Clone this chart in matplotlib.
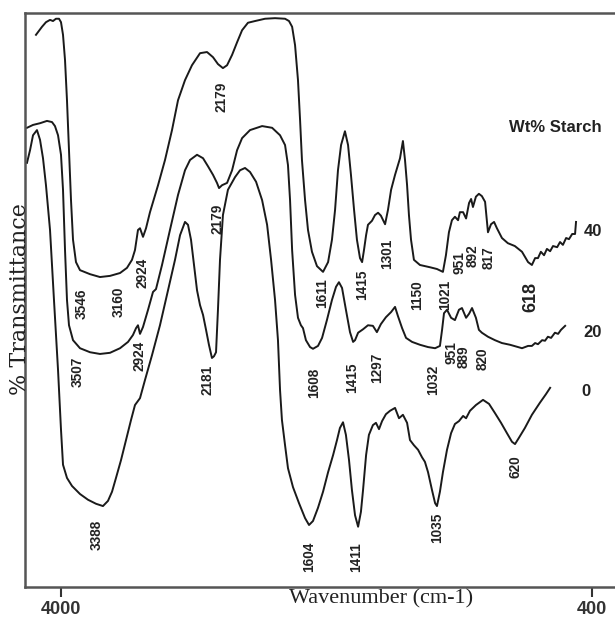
import numpy as np
import matplotlib
matplotlib.use('Agg')
import matplotlib.pyplot as plt

# FTIR spectra, wavenumber (cm-1) vs % transmittance (arbitrary offset units)
wn_40 = [4278, 4211, 4167, 4122, 4089, 4056, 4022, 4000, 3952, 3904,
         3857, 3809, 3761, 3713, 3642, 3546, 3442, 3339, 3235, 3131,
         3059, 3007, 2976, 2945, 2924, 2896, 2868, 2831, 2756, 2691,
         2626, 2570, 2505, 2440, 2365, 2300, 2244, 2198, 2162, 2138,
         2109, 2080, 2051, 2017, 1976, 1918, 1860, 1802, 1779, 1761,
         1744, 1727, 1715, 1704, 1686, 1669, 1646, 1617, 1585, 1559,
         1539, 1523, 1508, 1492, 1472, 1456, 1441, 1425, 1411, 1398,
         1389, 1381, 1372, 1364, 1347, 1334, 1321, 1309, 1290, 1276,
         1261, 1242, 1218, 1204, 1194, 1184, 1175, 1165, 1151, 1122,
         1073, 1040, 1012, 998, 984, 970, 956, 942, 934, 920,
         907, 894, 885, 877, 864, 851, 838, 824, 809, 792,
         775, 759, 731, 698, 659, 619, 600, 588, 578, 569,
         560, 550, 541, 531, 522, 509, 500, 491, 481, 472,
         462, 453, 450]
t_40 = [96.2, 97.6, 98.4, 98.8, 98.6, 99.0, 99.0, 98.4, 96.2, 91.8,
        84.8, 76.1, 67.4, 60.5, 56.6, 55.2, 54.5, 54.0, 54.2, 54.7,
        55.6, 57.0, 58.7, 62.2, 62.5, 61.0, 62.5, 65.3, 70.0, 74.4,
        79.6, 84.8, 88.3, 90.9, 93.0, 93.2, 92.3, 91.1, 90.4, 90.9,
        92.7, 94.9, 97.0, 98.3, 98.6, 99.0, 99.1, 99.0, 98.6, 97.6,
        94.4, 88.3, 81.4, 74.4, 67.4, 62.2, 58.4, 55.9, 54.9, 56.6,
        60.5, 65.7, 72.6, 77.0, 79.4, 77.0, 71.8, 65.7, 60.5, 57.3,
        56.6, 58.7, 61.3, 63.1, 63.8, 64.8, 65.2, 64.7, 63.2, 65.7,
        69.2, 71.8, 74.7, 77.7, 74.4, 70.0, 64.8, 60.5, 57.0, 56.1,
        55.7, 55.4, 54.9, 57.8, 61.8, 63.9, 64.5, 63.9, 65.3, 65.3,
        64.2, 66.9, 67.6, 66.2, 68.0, 68.5, 68.1, 67.1, 61.8, 63.2,
        63.6, 62.5, 60.8, 59.9, 59.4, 58.4, 56.6, 56.1, 57.3, 57.3,
        58.4, 57.8, 58.9, 58.5, 59.4, 59.2, 60.1, 59.6, 60.8, 60.6,
        61.5, 61.5, 63.6]

wn_20 = [4378, 4311, 4233, 4156, 4100, 4067, 4033, 4000, 3952, 3904,
         3857, 3809, 3713, 3546, 3442, 3339, 3235, 3131, 3048, 2997,
         2965, 2945, 2924, 2896, 2849, 2803, 2775, 2719, 2645, 2570,
         2505, 2458, 2393, 2337, 2291, 2244, 2207, 2188, 2167, 2138,
         2109, 2080, 2051, 2005, 1935, 1877, 1831, 1802, 1785, 1773,
         1761, 1744, 1727, 1710, 1698, 1681, 1657, 1640, 1611, 1590,
         1565, 1539, 1518, 1503, 1487, 1467, 1446, 1430, 1420, 1406,
         1385, 1364, 1343, 1326, 1309, 1286, 1261, 1242, 1228, 1208,
         1189, 1160, 1122, 1083, 1049, 1026, 1016, 1007, 993, 974,
         956, 938, 925, 907, 894, 881, 864, 851, 838, 809,
         770, 731, 686, 641, 619, 600, 588, 578, 569, 556,
         547, 538, 528, 516, 506, 497, 484]
t_20 = [80.0, 80.5, 80.8, 81.2, 81.0, 80.3, 78.7, 75.3, 69.2, 58.7,
        50.0, 45.6, 43.0, 41.6, 40.9, 40.6, 40.8, 41.6, 42.7, 43.9,
        45.1, 45.6, 44.1, 45.3, 48.3, 51.4, 51.9, 56.1, 62.2, 68.3,
        72.6, 74.4, 75.3, 74.7, 73.3, 71.8, 70.4, 69.5, 70.0, 70.4,
        72.6, 76.1, 78.2, 79.6, 80.3, 80.0, 78.7, 77.0, 73.5, 67.4,
        58.7, 50.9, 46.9, 45.6, 45.1, 43.0, 41.8, 41.5, 42.0, 43.4,
        46.5, 50.0, 52.3, 53.1, 52.1, 48.3, 44.4, 42.7, 43.0, 44.3,
        44.9, 45.6, 45.5, 44.4, 45.8, 47.0, 47.9, 48.8, 47.2, 45.1,
        43.4, 42.7, 42.2, 41.8, 41.6, 42.0, 44.8, 47.7, 48.3, 46.9,
        46.5, 48.3, 48.6, 46.9, 47.6, 48.6, 46.9, 44.8, 44.3, 43.6,
        43.0, 42.5, 42.2, 41.8, 41.6, 42.0, 42.0, 42.5, 42.3, 43.0,
        42.9, 43.6, 43.4, 44.3, 44.1, 44.8, 45.5]

wn_0 = [4378, 4344, 4311, 4267, 4233, 4200, 4167, 4122, 4078, 4033,
        4000, 3952, 3857, 3737, 3546, 3463, 3380, 3308, 3256, 3214,
        3173, 3121, 3069, 3017, 2976, 2924, 2877, 2812, 2738, 2663,
        2598, 2551, 2505, 2477, 2449, 2421, 2393, 2365, 2337, 2309,
        2282, 2254, 2235, 2216, 2198, 2179, 2162, 2133, 2092, 2063,
        2034, 2005, 1970, 1935, 1906, 1883, 1860, 1843, 1831, 1820,
        1802, 1785, 1756, 1721, 1686, 1663, 1640, 1611, 1585, 1559,
        1533, 1513, 1498, 1482, 1467, 1451, 1436, 1420, 1406, 1394,
        1385, 1372, 1360, 1343, 1330, 1317, 1304, 1286, 1266, 1242,
        1223, 1204, 1184, 1170, 1151, 1131, 1112, 1098, 1083, 1064,
        1049, 1040, 1026, 1012, 993, 974, 956, 938, 920, 907,
        890, 864, 833, 803, 770, 736, 703, 675, 658, 636,
        610, 588, 563, 544, 531]
t_0 = [73.9, 76.1, 78.7, 79.6, 77.9, 74.7, 70.0, 62.2, 50.0, 37.8,
       27.4, 21.3, 19.0, 17.6, 16.2, 15.2, 14.5, 14.1, 15.0, 16.6,
       19.0, 22.1, 25.6, 29.1, 31.7, 32.9, 36.1, 40.4, 45.6, 51.7,
       57.0, 61.3, 63.6, 63.1, 60.5, 56.1, 51.7, 49.1, 47.4, 44.8,
       42.2, 39.9, 40.2, 40.9, 48.3, 57.0, 64.8, 69.2, 71.4, 72.6,
       73.0, 72.3, 70.6, 67.4, 63.1, 57.0, 50.0, 43.0, 34.3, 29.1,
       24.7, 20.7, 17.4, 14.6, 12.0, 10.8, 11.5, 13.8, 16.6, 20.0,
       23.0, 25.6, 27.7, 28.7, 26.5, 22.1, 16.9, 12.5, 10.5, 13.1,
       16.9, 23.0, 26.5, 28.2, 28.6, 27.5, 28.9, 30.1, 30.7, 31.2,
       29.4, 30.0, 28.6, 25.6, 24.7, 23.9, 22.6, 21.8, 20.0, 16.9,
       14.6, 14.1, 16.6, 20.0, 23.9, 26.8, 28.4, 28.9, 29.8, 29.4,
       30.7, 31.7, 32.6, 31.9, 30.3, 28.6, 26.8, 25.3, 24.9, 26.0,
       27.7, 30.0, 32.1, 33.6, 34.7]

# peak labels and where they sit
peaks_40 = ['3546', '3160', '2924', '2179', '1611', '1415', '1301', '1150',
            '1021', '951', '892', '817']
peaks_40_x = [3525, 3142, 2905, 2173, 1590, 1389, 1281, 1136, 1002, 936, 877, 807]
peaks_40_y = [49.3, 49.7, 54.7, 85.4, 51.2, 52.6, 58.0, 50.9, 50.9, 56.6, 57.7, 57.3]

peaks_20 = ['3507', '2924', '2179', '1608', '1415', '1297', '1032', '951', '889', '820']
peaks_20_x = [3594, 2934, 2198, 1634, 1436, 1326, 1059, 974, 916, 833]
peaks_20_y = [37.5, 40.2, 64.1, 35.5, 36.4, 38.2, 36.1, 40.9, 40.2, 39.7]

peaks_0 = ['3388', '2181', '1604', '1411', '1035', '620']
peaks_0_x = [3370, 2291, 1663, 1415, 1040, 658]
peaks_0_y = [9.1, 36.1, 5.2, 5.2, 10.3, 20.9]

starch = ['40', '20', '0']
starch_x = [397, 397, 419]
starch_y = [62.0, 44.4, 34.0]

# the original axis is not linear: piecewise mapping wavenumber -> position
scale_wn = np.array([330, 400, 619, 820, 951, 1035, 1300, 1415, 1611, 2179,
                     2924, 3546, 4000, 4400], dtype=float)
scale_pos = -np.array([615, 592, 522, 486, 456, 438, 383, 356, 318, 220,
                       140, 80, 61, 25], dtype=float)


def fwd(w):
    return np.interp(w, scale_wn, scale_pos)


def inv(p):
    return np.interp(p, scale_pos, scale_wn)


fig = plt.figure(figsize=(6.15, 6.18), dpi=100)
ax = fig.add_axes([25 / 615, 1 - 587 / 618, 590 / 615, 574 / 618])
ax.set_xscale('function', functions=(fwd, inv))
ax.set_xlim(4400, 330)
ax.set_ylim(0, 100)

for wn, t in [(wn_40, t_40), (wn_20, t_20), (wn_0, t_0)]:
    ax.plot(wn, t, color='#1a1a1a', lw=1.4, solid_joinstyle='round')

sans = ['Liberation Sans', 'DejaVu Sans']
lab = dict(family=sans, fontsize=9.8, fontweight='bold', rotation=90,
           ha='center', va='center', color='#222')
for names, xs, ys in [(peaks_40, peaks_40_x, peaks_40_y),
                      (peaks_20, peaks_20_x, peaks_20_y),
                      (peaks_0, peaks_0_x, peaks_0_y)]:
    for s, x, y in zip(names, xs, ys):
        ax.text(x, y, s, **lab)
ax.text(591, 50.5, '618', family=sans, fontsize=13, fontweight='bold',
        rotation=90, ha='center', va='center', color='#222')

for s, x, y in zip(starch, starch_x, starch_y):
    ax.text(x, y, s, family=sans, fontsize=12, fontweight='bold',
            ha='center', va='center', color='#222', clip_on=False)
ax.text(516, 80.0, 'Wt% Starch', family=sans, fontsize=12, fontweight='bold',
        ha='center', va='center', color='#222')

ax.set_xticks([4000, 400])
ax.set_xticklabels(['4000', '400'], family=sans, fontsize=13, fontweight='bold')
ax.minorticks_off()
ax.set_yticks([])
ax.tick_params(axis='x', direction='out', length=7, width=1.5, pad=3, colors='#333')

for side in ['left', 'top', 'bottom']:
    ax.spines[side].set_color('#555')
    ax.spines[side].set_linewidth(1.8)
ax.spines['right'].set_visible(False)

ax.text(0.603, -0.004, 'Wavenumber (cm-1)', transform=ax.transAxes,
        family=['Liberation Serif', 'DejaVu Serif'], fontsize=16,
        ha='center', va='top', color='#222')
fig.text(20 / 615, 1 - 299 / 618, '% Transmittance', rotation=90,
         family=['DejaVu Serif'], fontsize=16, ha='center', va='center', color='#222')

fig.savefig('out.png', dpi=100)
